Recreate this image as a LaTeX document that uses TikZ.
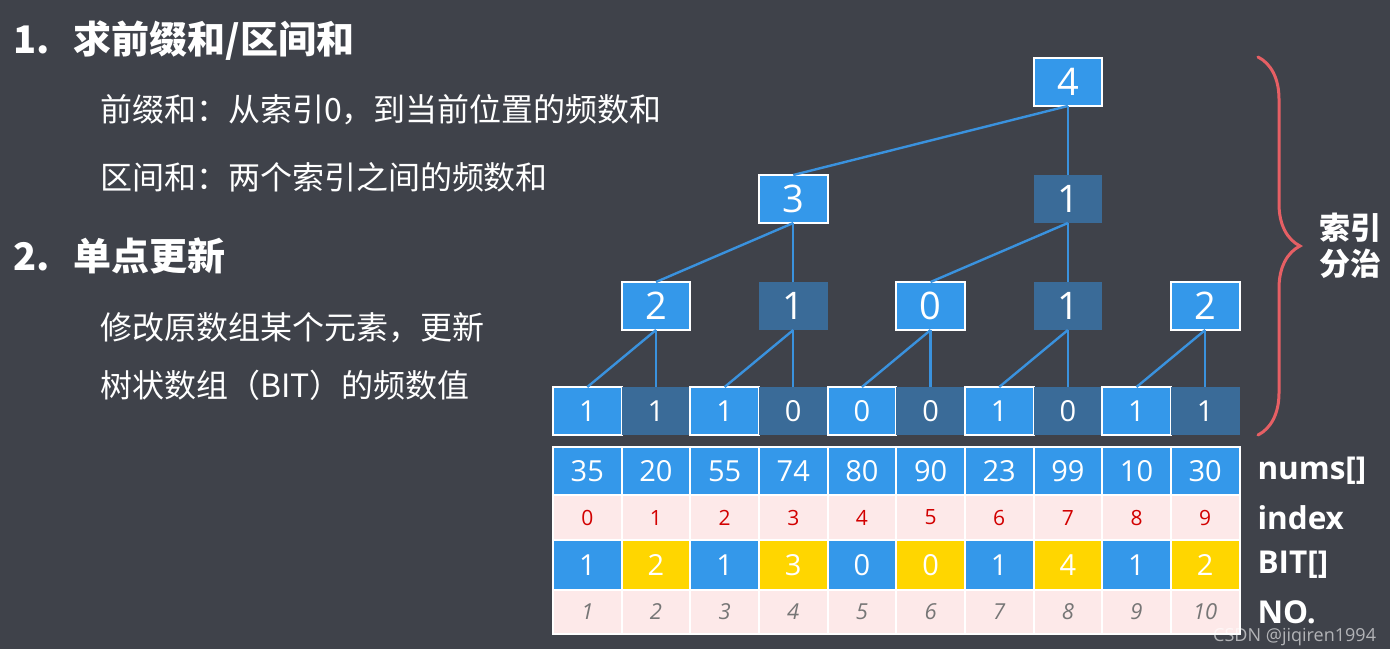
\documentclass[tikz,border=0pt]{standalone}
\usepackage{fontspec}
\setmainfont{Open Sans}
\newfontfamily\cjk{Noto Sans CJK SC}
\usetikzlibrary{positioning,decorations.pathreplacing}

\definecolor{bgdark}{RGB}{63,66,74}
\definecolor{bitblue}{RGB}{52,152,234}
\definecolor{bitdark}{RGB}{58,107,152}
\definecolor{linkblue}{RGB}{58,146,222}
\definecolor{bityellow}{RGB}{255,214,0}
\definecolor{pinkrow}{RGB}{253,233,233}
\definecolor{idxred}{RGB}{210,0,0}
\definecolor{nogray}{RGB}{118,118,118}
\definecolor{bracered}{RGB}{230,95,100}

\begin{document}
\begin{tikzpicture}[x=1pt,y=-1pt,
  every node/.style={inner sep=0pt, outer sep=0pt, text=white},
  cell/.style={minimum width=68.65pt, minimum height=48pt},
  lt/.style={cell, fill=bitblue, draw=white, line width=2pt},
  dk/.style={cell, fill=bitdark},
  tab/.style={cell, draw=white, line width=2pt},
  big/.style={font=\fontsize{38}{44}\selectfont},
  num/.style={font=\fontsize{29}{34}\selectfont},
  link/.style={draw=linkblue, line width=2.4pt},
  head/.style={anchor=west, font=\cjk\bfseries\fontsize{38}{44}\selectfont},
  body/.style={anchor=west, font=\cjk\fontsize{32}{38}\selectfont},
  rowlabel/.style={anchor=west, right=18pt of #1, font=\bfseries\fontsize{31.5}{36}\selectfont}]
\path[use as bounding box, fill=bgdark] (0,0) rectangle (1390,649);

% left side text
\node[head] (h1) at (13,41) {1.\hspace{24pt}求前缀和/区间和};
\node[body] (b1) at (100,110) {前缀和：从索引0，到当前位置的频数和};
\node[body] (b2) at (100,177) {区间和：两个索引之间的频数和};
\node[head] (h2) at (13,256) {2.\hspace{24pt}单点更新};
\node[body] (b3) at (100,328) {修改原数组某个元素，更新};
\node[body] (b4) at (100,385) {树状数组（BIT）的频数值};

% tree
\foreach \v/\s [count=\i] in {1/lt,1/dk,1/lt,0/dk,0/lt,0/dk,1/lt,0/dk,1/lt,1/dk}
  \node[\s, num] (c\i) at ({553+68.65*(\i-0.5)},411) {\v};
\node[lt, big, above=57pt of c2] (p2) {2};
\node[dk, big, above=57pt of c4] (p4) {1};
\node[lt, big, above=57pt of c6] (p6) {0};
\node[dk, big, above=57pt of c8] (p8) {1};
\node[lt, big, above=57pt of c10] (p10) {2};
\node[lt, big, above=59pt of p4] (q4) {3};
\node[dk, big, above=59pt of p8] (q8) {1};
\node[lt, big, above=69pt of q8] (r8) {4};
\foreach \a/\b in {p2/c1,p2/c2,p4/c3,p4/c4,p6/c5,p6/c6,p8/c7,p8/c8,p10/c9,p10/c10,
                   q4/p2,q4/p4,q8/p6,q8/p8,r8/q4,r8/q8}
  \draw[link] (\a.south) -- (\b.north);

% arrays
\foreach \v [count=\i] in {35,20,55,74,80,90,23,99,10,30}
  \node[tab, fill=bitblue, num] (n\i) at ({553+68.65*(\i-0.5)},471) {\v};
\foreach \v [count=\i] in {0,...,9}
  \node[tab, fill=pinkrow, minimum height=45pt, text=idxred,
        font=\fontsize{21}{24}\selectfont] (i\i) at ({553+68.65*(\i-0.5)},517.5) {\v};
\foreach \v/\c [count=\i] in {1/bitblue,2/bityellow,1/bitblue,3/bityellow,0/bitblue,
                              0/bityellow,1/bitblue,4/bityellow,1/bitblue,2/bityellow}
  \node[tab, fill=\c, minimum height=50pt, num] (f\i) at ({553+68.65*(\i-0.5)},565) {\v};
\foreach \i in {1,...,10}
  \node[tab, fill=pinkrow, minimum height=44pt, text=nogray,
        font=\itshape\fontsize{22}{26}\selectfont] (k\i) at ({553+68.65*(\i-0.5)},612) {\i};

\node[rowlabel=n10] (lnums) {nums[]};
\node[rowlabel=i10] (lidx) {index};
\node[rowlabel=f10] (lbit) {BIT[]};
\node[rowlabel=k10] (lno) {NO.};

% brace
\coordinate (bt) at (1258,57);
\coordinate (bb) at (1258,435);
\draw[bracered, line width=3pt, line cap=round, decorate,
      decoration={brace, amplitude=42pt}] (bt) -- (bb);
\node[anchor=west, align=left, font=\cjk\bfseries\fontsize{31}{36}\selectfont] (fz)
  at (1319,246) {索引\\分治};

\node[anchor=east, opacity=0.6, font=\fontsize{18}{20}\selectfont] (wm) at (1376,637)
  {CSDN @jiqiren1994};
\end{tikzpicture}
\end{document}
